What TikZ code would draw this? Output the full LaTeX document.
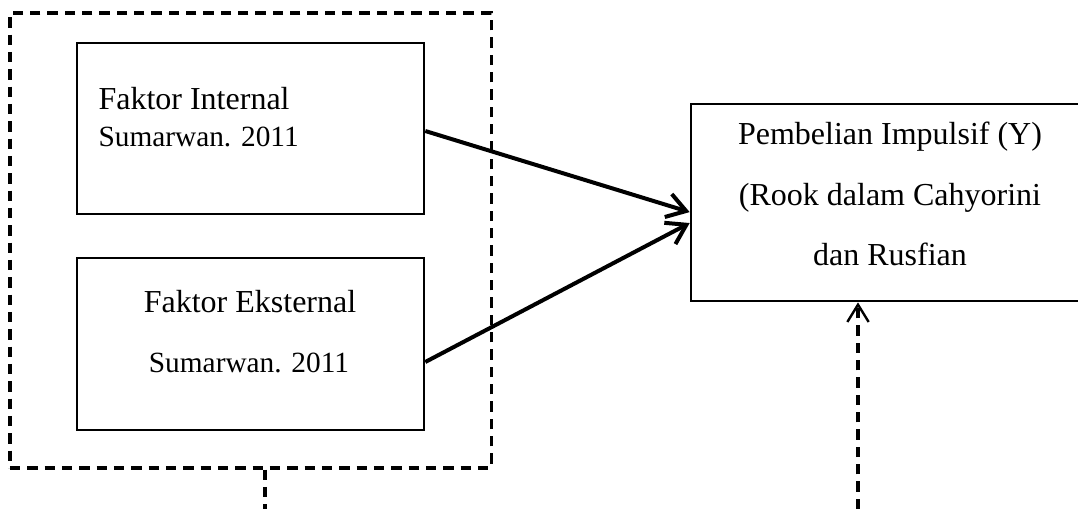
\documentclass[tikz,border=0pt]{standalone}
\usepackage{fontspec}
\setmainfont{Liberation Serif}
\usepackage{tikz}
\usetikzlibrary{arrows.meta, positioning}

\tikzset{
  kotak/.style={draw, line width=1pt, inner sep=0pt},
  panah/.style={line width=1.5pt, -{Straight Barb[length=7pt, width=9pt, line width=1.5pt]}},
  putus/.style={line width=1.15pt, dash pattern=on 3.9pt off 2.6pt},
  teks/.style={inner sep=0pt, font=\fontsize{12}{14}\selectfont},
  teksKecil/.style={inner sep=0pt, font=\fontsize{11}{13}\selectfont},
}

\begin{document}
\begin{tikzpicture}[x=0.375pt, y=-0.375pt]
  \clip (0,0) rectangle (1078,509);

  % === variabel bebas (X) ===
  \node[kotak, putus, minimum width=180.4pt, minimum height=170.6pt] (luar) at (250.5,240.5) {};
  \node[kotak, minimum width=130.1pt, minimum height=64.1pt] (internal) at (250.5,128.5) {};
  \node[kotak, minimum width=130.1pt, minimum height=64.5pt] (eksternal) at (250.5,344) {};
  \node[teks, anchor=base west] (tInternal) at (98,110) {Faktor Internal};
  \node[teksKecil, anchor=base west] (tSumarwanA) at (98,147) {Sumarwan. 2011};
  \node[teks, anchor=base] (tEksternal) at (250,313) {Faktor Eksternal};
  \node[teksKecil, anchor=base] (tSumarwanB) at (249,372) {Sumarwan. 2011};

  % === variabel terikat (Y) ===
  \node[kotak, minimum width=149.25pt, minimum height=73.9pt] (pembelian) at (890,202.5) {};
  \node[teks, anchor=base] (tPembelian) at (890,145) {Pembelian Impulsif (Y)};
  \node[teks, anchor=base] (tRook) at (890,206) {(Rook dalam Cahyorini};
  \node[teks, anchor=base] (tRusfian) at (890,266) {dan Rusfian};

  % === panah ===
  \draw[panah] ([yshift=-0.94pt]internal.east) -- ([yshift=-3.6pt]pembelian.west);
  \draw[panah] ([yshift=-6.75pt]eksternal.east) -- ([yshift=-7.7pt]pembelian.west);

  % === garis putus-putus ===
  \coordinate (bawahKiri) at (265,509);
  \coordinate (bawahKanan) at (858,509);
  \draw[putus] (luar.south -| bawahKiri) -- (bawahKiri);
  \draw[putus, -{Straight Barb[length=6.5pt, width=8pt, line width=0.9pt]}]
    (bawahKanan) -- (bawahKanan |- pembelian.south);
\end{tikzpicture}
\end{document}
